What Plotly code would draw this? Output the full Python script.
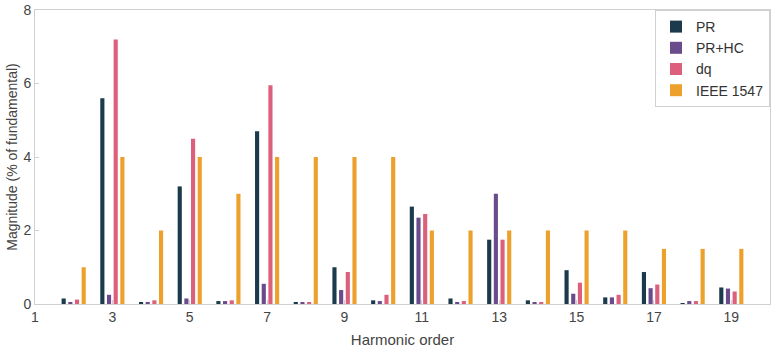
import plotly.graph_objects as go

harmonics = list(range(2, 20))
pr =    [0.15, 5.6, 0.05, 3.2, 0.08, 4.7, 0.03, 1.0, 0.10, 2.65, 0.15, 1.75, 0.10, 0.92, 0.18, 0.87, 0.02, 0.45]
pr_hc = [0.04, 0.25, 0.03, 0.15, 0.08, 0.55, 0.03, 0.38, 0.08, 2.35, 0.03, 3.0, 0.03, 0.28, 0.18, 0.43, 0.08, 0.42]
dq =    [0.12, 7.2, 0.10, 4.5, 0.10, 5.95, 0.03, 0.87, 0.25, 2.45, 0.08, 1.75, 0.03, 0.58, 0.25, 0.53, 0.08, 0.34]
ieee =  [1.0, 4.0, 2.0, 4.0, 3.0, 4.0, 4.0, 4.0, 4.0, 2.0, 2.0, 2.0, 2.0, 2.0, 2.0, 1.5, 1.5, 1.5]

series = [("PR", pr, "#1b3a4b"), ("PR+HC", pr_hc, "#6a4c8c"),
          ("dq", dq, "#dc5f7c"), ("IEEE 1547", ieee, "#eda02c")]

fig = go.Figure()
for name, vals, col in series:
    fig.add_trace(go.Bar(x=harmonics, y=vals, name=name, marker_color=col,
                         marker_line_width=0))

font = "Liberation Sans, Arial, sans-serif"
fig.update_layout(
    width=773, height=352,
    margin=dict(l=35, r=3, t=10, b=48),
    barmode="group", bargap=0.31, bargroupgap=0.38,
    plot_bgcolor="white", paper_bgcolor="white",
    font=dict(family=font, size=13, color="#444"),
    showlegend=True,
    legend=dict(x=1, y=1, xanchor="right", yanchor="top",
                bordercolor="#d0d0d0", borderwidth=1, bgcolor="white",
                font=dict(size=14, color="#333"), tracegroupgap=0,
                itemwidth=30),
    xaxis=dict(range=[1, 20], tickvals=list(range(1, 20, 2)),
               title=dict(text="Harmonic order", standoff=10, font=dict(size=15, color="#444")),
               showgrid=False, zeroline=False, showline=True, linecolor="#d0d0d0",
               mirror=True, ticks="inside", ticklen=4, tickcolor="#d0d0d0",
               tickfont=dict(size=14)),
    yaxis=dict(range=[0, 8], tickvals=[0, 2, 4, 6, 8],
               title=dict(text="Magnitude (% of fundamental)", standoff=2, font=dict(size=14, color="#444")),
               showgrid=False, zeroline=False, showline=True, linecolor="#d0d0d0",
               mirror=True, ticks="inside", ticklen=4, tickcolor="#d0d0d0",
               tickfont=dict(size=14)),
)

fig.write_html("out.html")
